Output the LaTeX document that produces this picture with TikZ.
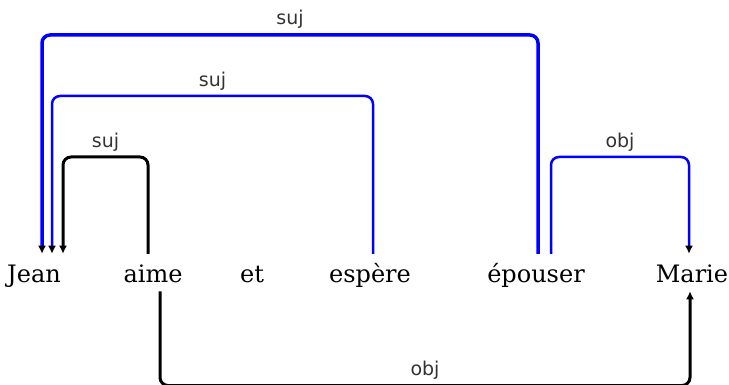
\documentclass[tikz,border=0pt]{standalone}
\usepackage{fontspec}
\setmainfont{DejaVu Serif}
\newfontfamily\lblfont{DejaVu Sans}
\usetikzlibrary{arrows.meta, calc}

\begin{document}
\begin{tikzpicture}[x=1pt, y=-1pt, line width=2.5pt,
      >={Latex[color=black, length=8pt, width=8pt]},
      word/.style={anchor=base, font=\fontsize{24}{28}\selectfont,
                   text height=19pt, text depth=0pt, inner xsep=0pt, inner ysep=8pt},
      rel/.style={font=\lblfont\fontsize{19}{22}\selectfont, text=black!80, above=1pt},
      dep/.style={rounded corners=8pt, draw=black},
      bdep/.style={rounded corners=8pt, draw=blue}]
    \useasboundingbox (0,0) rectangle (729,385);
    \node[word] (jean) at (34,282) {Jean};
    \node[word] (aime) at (153,282) {aime};
    \node[word] (et) at (252,282) {et};
    \node[word] (espere) at (370,282) {espère};
    \node[word] (epouser) at (536,282) {épouser};
    \node[word] (marie) at (692,282) {Marie};
    % arc ends
    \coordinate (j1) at ($(jean.north)+(8,0)$);
    \coordinate (j2) at ($(jean.north)+(18,0)$);
    \coordinate (j3) at ($(jean.north)+(29,0)$);
    \coordinate (a1) at ($(aime.north)+(-5,0)$);
    \coordinate (a2) at ($(aime.south)+(7,0)$);
    \coordinate (s1) at ($(espere.north)+(3,0)$);
    \coordinate (e1) at ($(epouser.north)+(2,0)$);
    \coordinate (e2) at ($(epouser.north)+(15,0)$);
    \coordinate (m1) at ($(marie.north)+(-3,0)$);
    \coordinate (m2) at ($(marie.south)+(-2,0)$);
    % arcs above
    \draw[->, bdep, line width=3.5pt] (e1) -- (e1 |- 0,35)
        -- node[rel] {suj} (j1 |- 0,35) -- (j1);
    \draw[->, bdep] (s1) -- (s1 |- 0,96)
        -- node[rel] {suj} (j2 |- 0,96) -- (j2);
    \draw[->, dep, line width=3pt] (a1) -- (a1 |- 0,157)
        -- node[rel] {suj} (j3 |- 0,157) -- (j3);
    \draw[->, bdep] (e2) -- (e2 |- 0,157)
        -- node[rel] {obj} (m1 |- 0,157) -- (m1);
    % arc below
    \draw[->, dep, line width=3pt] (a2) -- (a2 |- 0,385.5)
        -- node[rel] {obj} (m2 |- 0,385.5) -- (m2);
\end{tikzpicture}
\end{document}
